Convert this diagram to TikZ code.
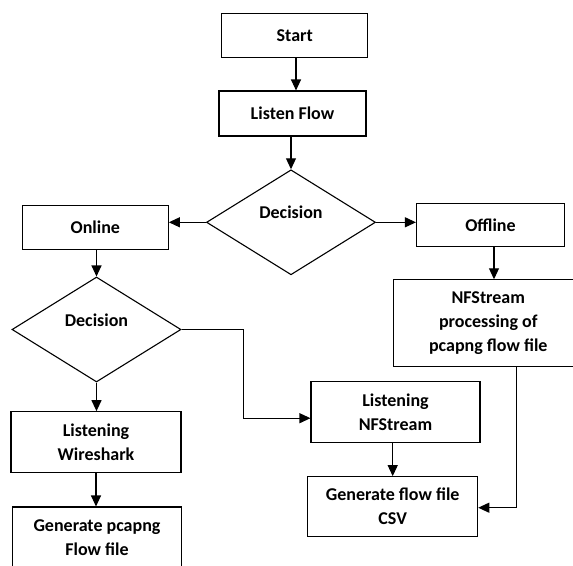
\documentclass[tikz,border=0pt]{standalone}
\usepackage{fontspec}
\setmainfont{Carlito}
\usetikzlibrary{shapes.geometric,arrows.meta}
\begin{document}
\begin{tikzpicture}[x=1pt,y=-1pt,
	>={Triangle[length=11pt,width=10pt]},
	every path/.style={line width=1.1pt},
	every node/.style={font=\fontsize{18}{24}\selectfont\bfseries,align=center},
	mybox/.style={draw,rectangle,inner sep=0pt},
	mydiamond/.style={draw,diamond,inner sep=0pt,minimum width=169pt,minimum height=105pt}]
	
	\useasboundingbox (0,0) rectangle (573,565);
	
	\node[mybox,minimum width=146pt,minimum height=44pt](start) at (294.7,35.5) {Start};
	\node[mybox,minimum width=147pt,minimum height=45pt](listen) at (292.5,113.5) {Listen Flow};
	\node[mydiamond,label={[yshift=10pt]center:Decision}](dec1) at (291,222.3) {};
	\node[mybox,minimum width=146pt,minimum height=44pt](online) at (95.3,227.2) {Online};
	\node[mybox,minimum width=148pt,minimum height=43pt](offline) at (490.5,225) {Offline};
	\node[mydiamond,label={[yshift=9pt]center:Decision}](dec2) at (96.5,329.5) {};
	\node[mybox,minimum width=190pt,minimum height=87pt](nfproc) at (488.3,323.3) {NFStream\\processing of\\pcapng flow file};
	\node[mybox,minimum width=170pt,minimum height=61pt](wire) at (96,442.2) {Listening\\Wireshark};
	\node[mybox,minimum width=169pt,minimum height=61pt](pcap) at (97,537.5) {Generate pcapng\\Flow file};
	\node[mybox,minimum width=169pt,minimum height=61pt](nflisten) at (395.5,412.2) {Listening\\NFStream};
	\node[mybox,minimum width=170pt,minimum height=60pt](csv) at (392.7,506.7) {Generate flow file\\CSV};
	
	\draw[->] ([xshift=1.3pt]start.south) -- ([xshift=1.3pt]start.south |- listen.north);
	\draw[->] (dec1.north |- listen.south) -- (dec1.north);
	\draw[->] (dec1.west) -- (dec1.west -| online.east);
	\draw[->] (dec1.east) -- (dec1.east -| offline.west);
	\draw[->] (dec2.north |- online.south) -- (dec2.north);
	\draw[->] ([xshift=3.5pt]offline.south) -- ([xshift=3.5pt]offline.south |- nfproc.north);
	\draw[->] (dec2.south) -- (dec2.south |- wire.north);
	\draw[->] (wire.south) -- (wire.south |- pcap.north);
	\draw[->] (dec2.east) -- ++(62,0) |- ([yshift=-6pt]nflisten.west);
	\draw[->] (csv.north |- nflisten.south) -- (csv.north);
	\draw[->] ([xshift=28pt]nfproc.south) |- ([yshift=-1pt]csv.east);
\end{tikzpicture}
\end{document}
